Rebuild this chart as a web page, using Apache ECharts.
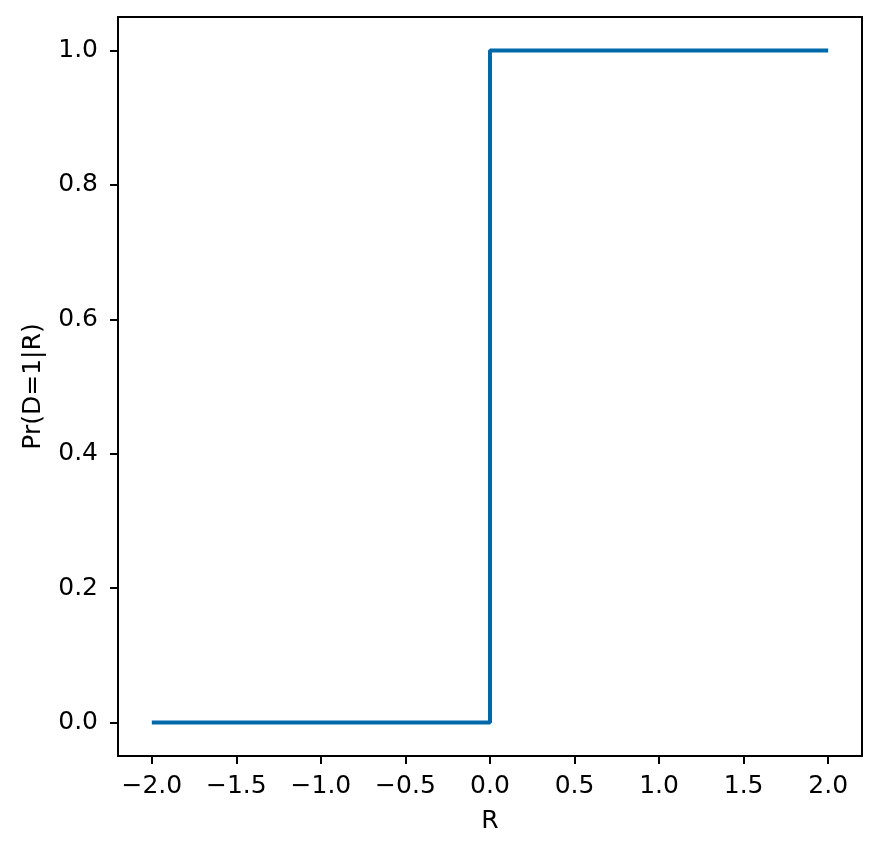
<!DOCTYPE html>
<html><head><meta charset="utf-8">
<script src="https://cdn.jsdelivr.net/npm/echarts@6/dist/echarts.min.js"></script>
<style>html,body{margin:0;padding:0;background:#fff}#c{width:881px;height:858px}</style>
</head><body><div id="c"></div>
<script>
const stepX = [-2.0, 0.0, 0.0, 2.0];
const stepY = [0, 0, 1, 1];
const xTicks = [-2.0, -1.5, -1.0, -0.5, 0.0, 0.5, 1.0, 1.5, 2.0];
const yTicks = [0.0, 0.2, 0.4, 0.6, 0.8, 1.0];
const fmt = v => v.toFixed(1).replace('-', '\u2212');
const font = 'DejaVu Sans';
const FS = 25;
const chart = echarts.init(document.getElementById('c'), null, {renderer: 'canvas'});
chart.setOption({
  animation: false,
  grid: {left: 118, top: 17, width: 744, height: 739, show: true, borderColor: '#000', borderWidth: 2, backgroundColor: '#fff'},
  xAxis: {
    type: 'value', min: -2.2, max: 2.2,
    name: 'R', nameLocation: 'middle', nameGap: 53,
    nameTextStyle: {fontFamily: font, fontSize: FS, color: '#000'},
    axisLine: {show: true, onZero: false, lineStyle: {color: '#000', width: 2}},
    axisTick: {show: true, length: 8, customValues: xTicks, lineStyle: {color: '#000', width: 2}},
    axisLabel: {customValues: xTicks, formatter: fmt, fontFamily: font, fontSize: FS, color: '#000', margin: 18},
    splitLine: {show: false}
  },
  yAxis: {
    type: 'value', min: -0.05, max: 1.05,
    name: 'Pr(D=1|R)', nameLocation: 'middle', nameGap: 72,
    nameTextStyle: {fontFamily: font, fontSize: FS, color: '#000'},
    axisLine: {show: true, onZero: false, lineStyle: {color: '#000', width: 2}},
    axisTick: {show: true, length: 8, customValues: yTicks, lineStyle: {color: '#000', width: 2}},
    axisLabel: {customValues: yTicks, formatter: fmt, fontFamily: font, fontSize: FS, color: '#000', margin: 20},
    splitLine: {show: false}
  },
  series: [{
    type: 'line',
    data: stepX.map((x, i) => [x, stepY[i]]),
    showSymbol: false,
    lineStyle: {color: '#0068A8', width: 4},
    z: 3
  }]
});
</script></body></html>
